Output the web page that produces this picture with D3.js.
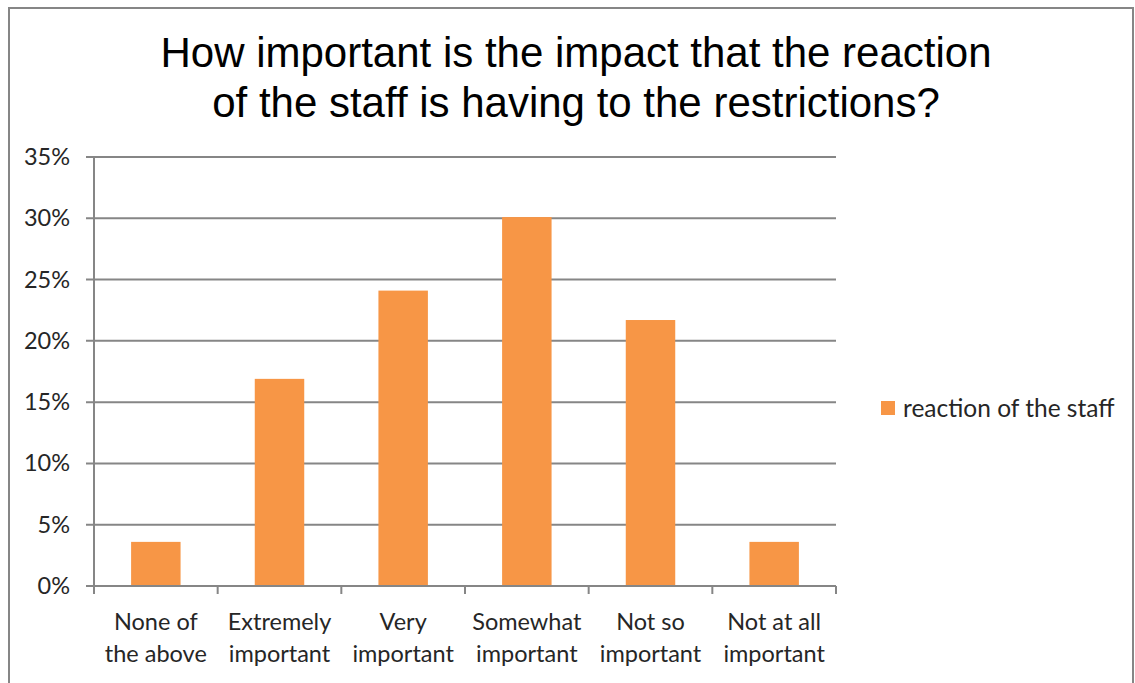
<!DOCTYPE html>
<html><head><meta charset="utf-8">
<script src="https://cdn.jsdelivr.net/npm/d3@7"></script>
<style>body{margin:0;background:#fff}svg{display:block}</style>
</head><body>
<script>
const categories = [["None of","the above"],["Extremely","important"],["Very","important"],["Somewhat","important"],["Not so","important"],["Not at all","important"]];
const values = [0.036, 0.169, 0.241, 0.301, 0.217, 0.036];
const yTicks = [0,0.05,0.10,0.15,0.20,0.25,0.30,0.35];
const seriesName = "reaction of the staff";
const titleLines = ["How important is the impact that the reaction","of the staff is having to the restrictions?"];

const W=1135,H=683;
const FONT="Lato, 'Open Sans', sans-serif";
const svg=d3.select("body").append("svg").attr("width",W).attr("height",H);
svg.append("rect").attr("x",9).attr("y",8).attr("width",1124).attr("height",690).attr("fill","#fff").attr("stroke","#868686").attr("stroke-width",2);

const L=94,R=836,T=157,B=586;
const x=d3.scaleBand().domain(d3.range(categories.length)).range([L,R]).paddingInner(0.6).paddingOuter(0.3);
const xb=d3.scaleBand().domain(d3.range(categories.length)).range([L,R]);
const y=d3.scaleLinear().domain([0,0.35]).range([B,T]);
const grid="#868686";
const g=svg.append("g");
g.selectAll("line.grid").data(yTicks).join("line").attr("x1",L-8).attr("x2",R).attr("y1",d=>y(d)).attr("y2",d=>y(d)).attr("stroke",grid).attr("stroke-width",2);
g.append("line").attr("x1",L).attr("x2",L).attr("y1",T).attr("y2",B+8).attr("stroke",grid).attr("stroke-width",2);
const xt=d3.range(categories.length+1).map(i=>i<categories.length?xb(i):R);
g.selectAll("line.xt").data(xt).join("line").attr("x1",d=>d).attr("x2",d=>d).attr("y1",B).attr("y2",B+8).attr("stroke",grid).attr("stroke-width",2);
g.selectAll("text.yl").data(yTicks).join("text").attr("x",70).attr("y",d=>y(d)+8).attr("text-anchor","end")
 .attr("font-family",FONT).attr("font-size",23.5).attr("fill","#262626").text(d=>d3.format(".0%")(d));
g.selectAll("rect.bar").data(values).join("rect").attr("x",(d,i)=>x(i)).attr("width",x.bandwidth()).attr("y",d=>y(d)).attr("height",d=>B-y(d)).attr("fill","#F79646");
g.append("line").attr("x1",L).attr("x2",R).attr("y1",B).attr("y2",B).attr("stroke",grid).attr("stroke-width",2);
categories.forEach((c,i)=>{
  const t=g.append("text").attr("text-anchor","middle").attr("font-family",FONT).attr("font-size",23.5).attr("fill","#262626");
  c.forEach((s,j)=>t.append("tspan").attr("x",xb(i)+xb.bandwidth()/2).attr("y",630+j*32).text(s));
});
const tt=svg.append("text").attr("text-anchor","middle").attr("font-family","'Liberation Sans', Arial, sans-serif").attr("font-size",42).attr("fill","#000");
titleLines.forEach((s,j)=>tt.append("tspan").attr("x",576).attr("y",67+j*50).text(s));
svg.append("rect").attr("x",881).attr("y",401).attr("width",14).attr("height",14).attr("fill","#F79646");
svg.append("text").attr("x",903).attr("y",417).attr("font-family",FONT).attr("font-size",24.5).attr("fill","#262626").text(seriesName);
</script>
</body></html>
